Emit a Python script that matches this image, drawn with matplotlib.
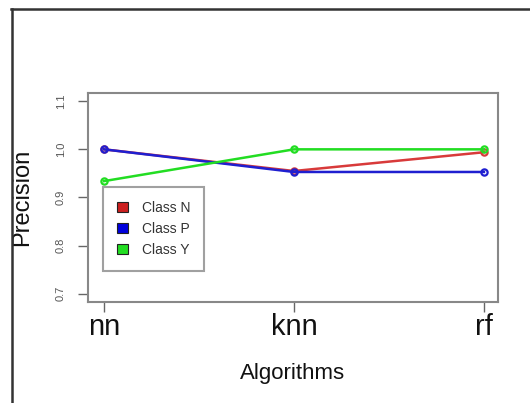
import matplotlib
matplotlib.use("Agg")
import matplotlib.pyplot as plt
from matplotlib.patches import Patch
from matplotlib.lines import Line2D

plt.rcParams['font.family'] = ['Liberation Sans', 'DejaVu Sans']

algorithms = ["nn", "knn", "rf"]
class_n = [1.0, 0.955, 0.994]
class_p = [1.0, 0.953, 0.953]
class_y = [0.934, 1.0, 1.0]
series_names = ["Class N", "Class P", "Class Y"]
line_colors = ["#d83a3a", "#1f1fd0", "#22dd22"]
box_colors = ["#cc1f1f", "#0000dd", "#22dd22"]
y_ticks = [0.7, 0.8, 0.9, 1.0, 1.1]

fig = plt.figure(figsize=(5.3, 4.03), dpi=100)
ax = fig.add_axes([88/530, 1-302/403, 410/530, 209/403])

xs = [1, 2, 3]
for vals, col in zip([class_n, class_p, class_y], line_colors):
    ax.plot(xs, vals, color=col, lw=1.8, marker='o', ms=4.5, mfc='none', mew=1.6)

ax.set_xlim(0.916, 3.074)
ax.set_ylim(0.683, 1.117)
ax.set_xticks(xs)
ax.set_xticklabels(algorithms, fontsize=21, color='#111111')
ax.set_yticks(y_ticks)
ax.set_yticklabels([f"{v:.1f}" for v in y_ticks], rotation=90, va='center',
                   fontsize=8, color='#555555')
ax.tick_params(axis='y', length=7, width=1, color='#666666', pad=9)
ax.tick_params(axis='x', length=7, width=1, color='#666666', pad=1)
for sp in ax.spines.values():
    sp.set_color('#888888')
    sp.set_linewidth(1.5)

ax.set_xlabel("Algorithms", fontsize=16, color='#111111')
ax.set_ylabel("Precision", fontsize=17, color='#111111')
ax.xaxis.set_label_coords(0.5, (302-379)/209, transform=ax.transAxes)
ax.xaxis.label.set_va('baseline')
ax.yaxis.set_label_coords((22-88)/410, 0.5, transform=ax.transAxes)
ax.yaxis.label.set_va('center')

handles = [Patch(facecolor=c, edgecolor='#222222', lw=0.8) for c in box_colors]
leg = ax.legend(handles, series_names, loc='upper left', bbox_to_anchor=(0.037, 0.55),
                fontsize=10, frameon=True, fancybox=False, handlelength=0.8,
                handleheight=0.8, handletextpad=1.0, borderpad=1.0, labelspacing=0.5,
                borderaxespad=0)
leg.get_frame().set_edgecolor('#888888')
leg.get_frame().set_linewidth(1.5)
for t in leg.get_texts():
    t.set_color('#333333')

# outer frame of the screenshot (left and top only)
fig.add_artist(Line2D([11.5/530, 11.5/530], [0, 1-9/403], transform=fig.transFigure,
                      color='#333333', lw=1.8))
fig.add_artist(Line2D([11/530, 1], [1-9/403, 1-9/403], transform=fig.transFigure,
                      color='#333333', lw=1.8))

fig.savefig("out.png", dpi=100)
